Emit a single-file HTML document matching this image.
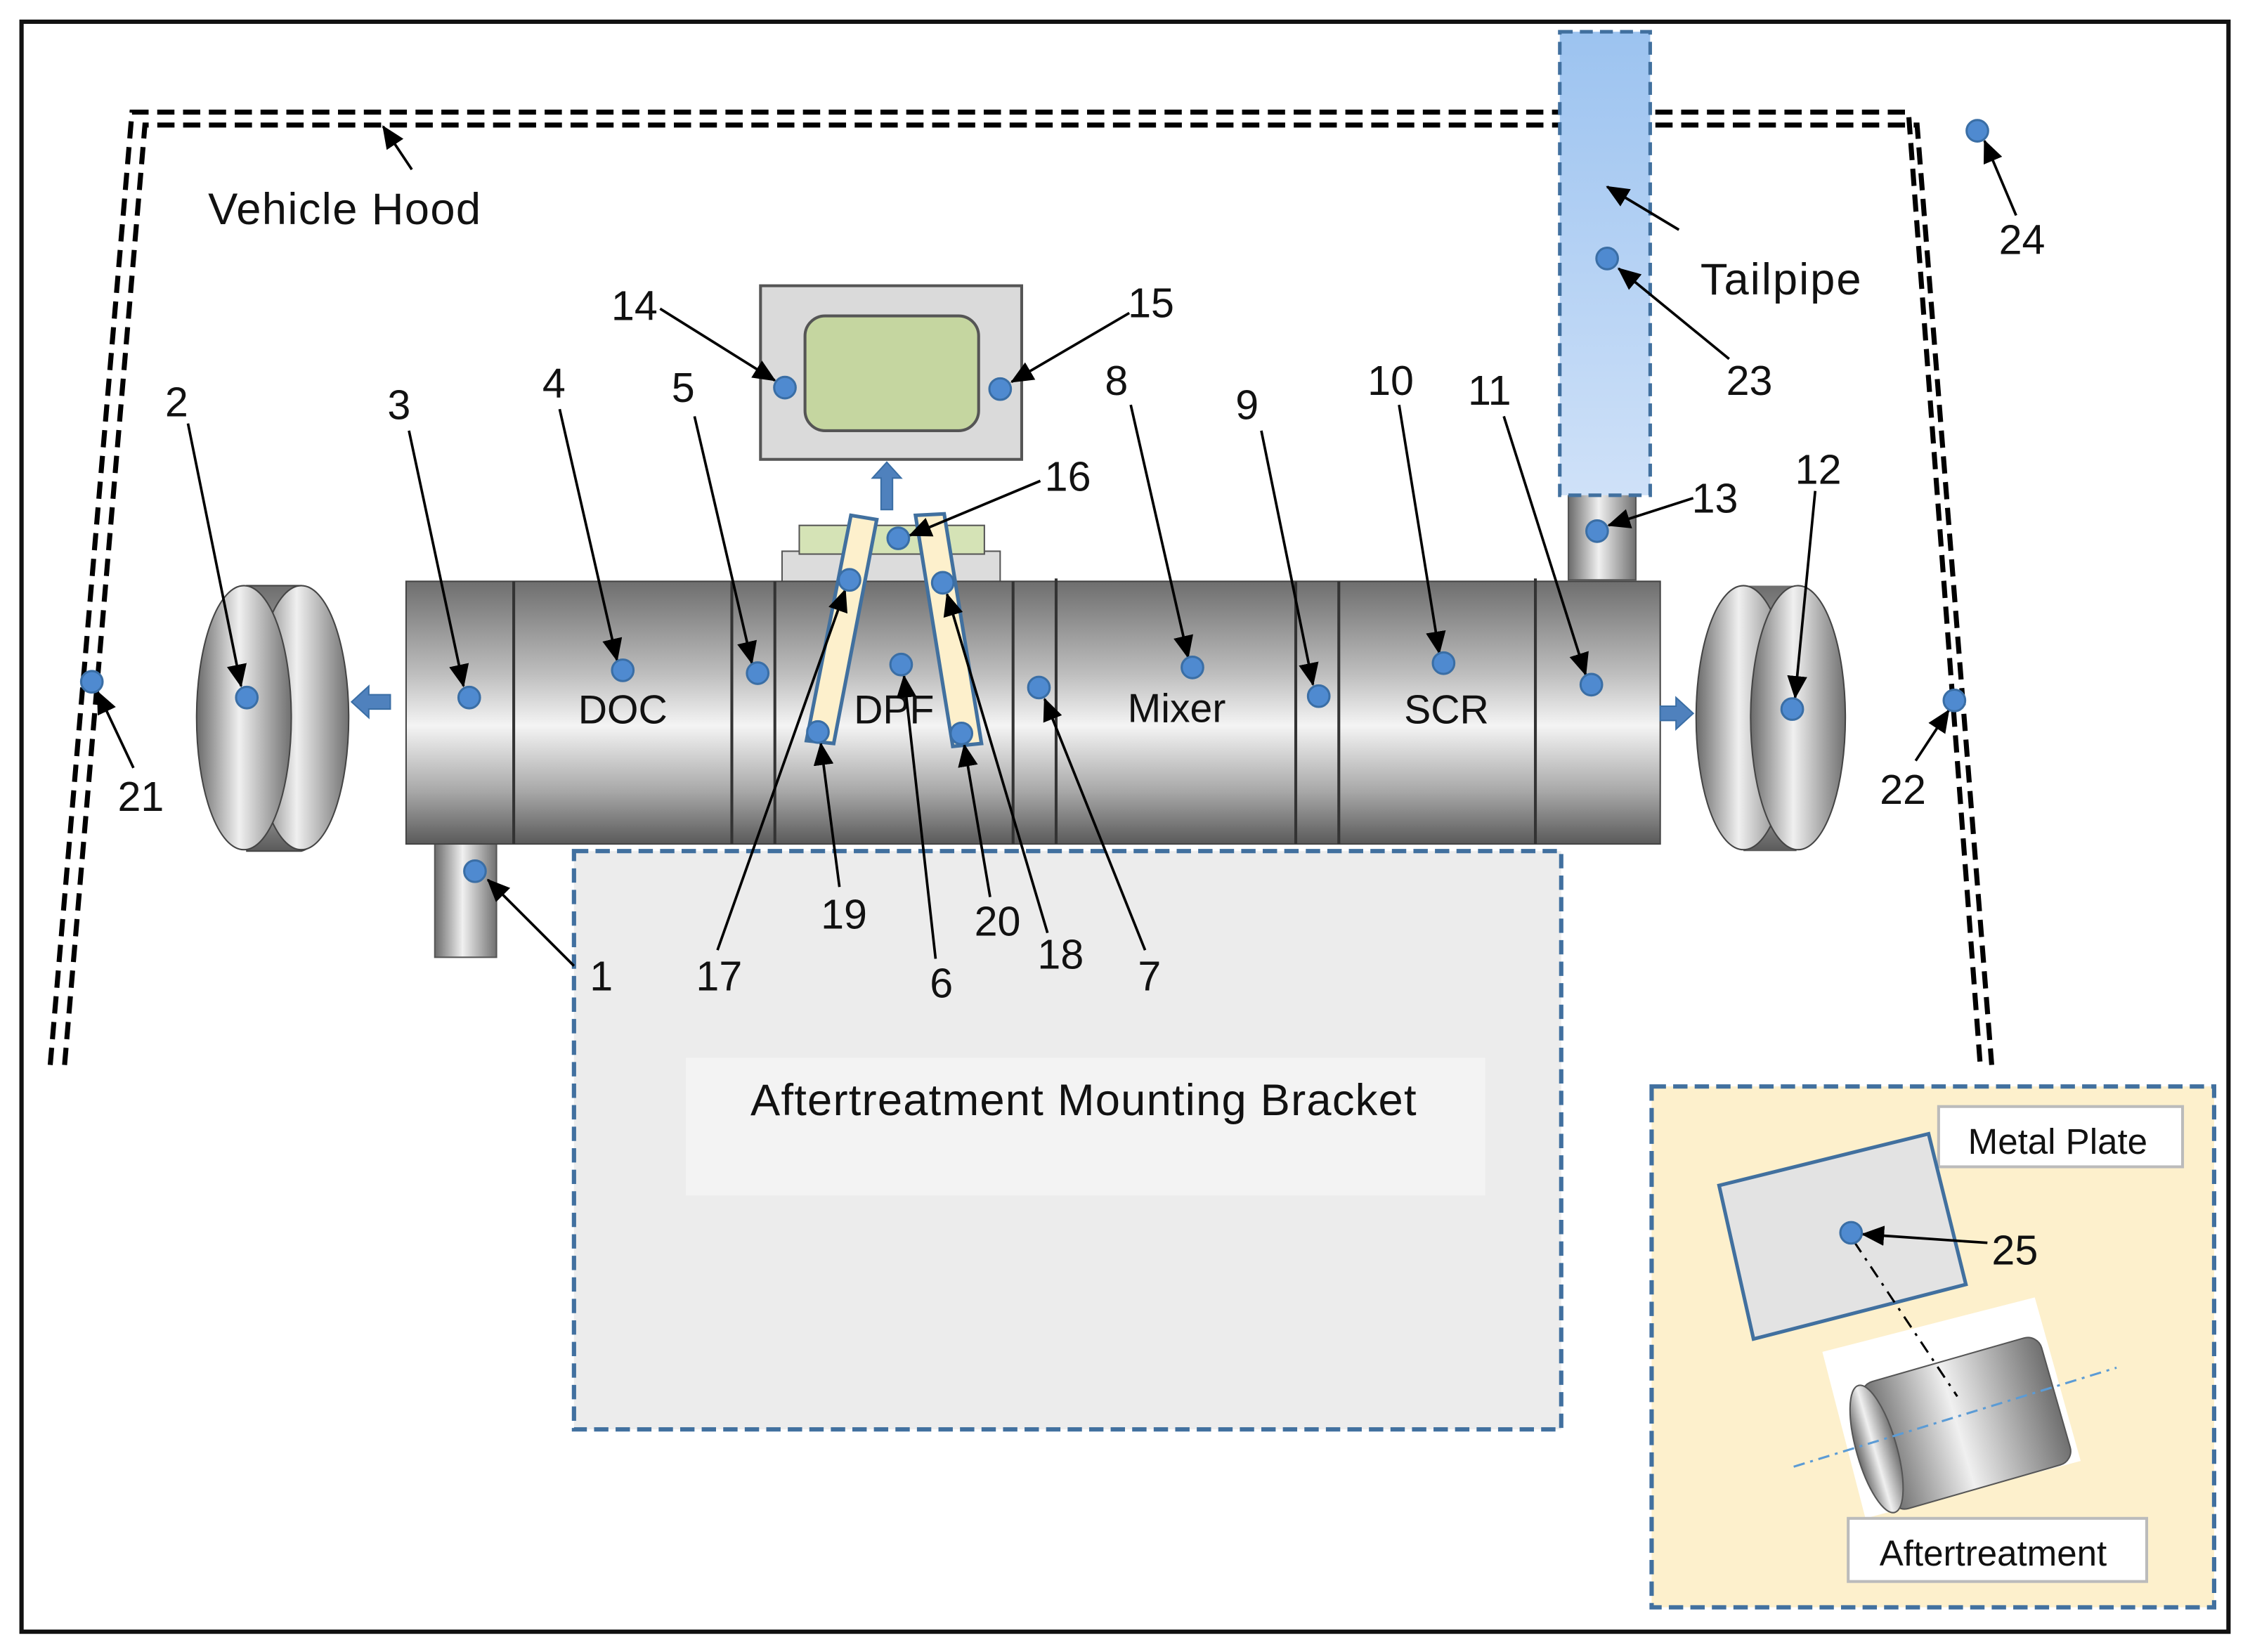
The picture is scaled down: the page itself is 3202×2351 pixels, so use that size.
<!DOCTYPE html>
<html><head><meta charset="utf-8"><style>
html,body{margin:0;padding:0;background:#fff}
svg{display:block}
text{font-family:"Liberation Sans",sans-serif;fill:#111}
</style></head><body>
<svg width="3202" height="2351" viewBox="0 0 1568 1151" xmlns="http://www.w3.org/2000/svg">
<defs>
<linearGradient id="cyl" x1="0" y1="0" x2="0" y2="1">
<stop offset="0" stop-color="#6e6e6e"/><stop offset="0.35" stop-color="#bdbdbd"/><stop offset="0.55" stop-color="#f4f4f4"/><stop offset="0.8" stop-color="#a8a8a8"/><stop offset="1" stop-color="#5a5a5a"/></linearGradient>
<linearGradient id="cylh" x1="0" y1="0" x2="1" y2="0">
<stop offset="0" stop-color="#6a6a6a"/><stop offset="0.45" stop-color="#f0f0f0"/><stop offset="1" stop-color="#707070"/></linearGradient>
<linearGradient id="tail" x1="0" y1="0" x2="0" y2="1">
<stop offset="0" stop-color="#9cc3f0"/><stop offset="1" stop-color="#cfe1f8"/></linearGradient>
<marker id="ah2" markerWidth="16" markerHeight="14" refX="15" refY="7" orient="auto" markerUnits="userSpaceOnUse" viewBox="0 0 16 14">
<path d="M0,0 L16,7 L0,14 z" fill="#000"/></marker>
</defs>
<rect x="15" y="15" width="1538" height="1122" fill="#fff" stroke="#111" stroke-width="3"/>

<path d="M35,742 L92,78 L1330,78 L1380,742" fill="none" stroke="#000" stroke-width="3.5" stroke-dasharray="12,6"/>
<path d="M45,742 L101,87 L1336,87 L1388,742" fill="none" stroke="#000" stroke-width="3.5" stroke-dasharray="12,6"/>

<rect x="400" y="593" width="688" height="403" fill="#ececec" stroke="#41709f" stroke-width="3" stroke-dasharray="10,5"/>
<rect x="478" y="737" width="557" height="96" fill="#f3f3f3"/>
<text x="755" y="777" font-size="31" text-anchor="middle" textLength="464">Aftertreatment Mounting Bracket</text>

<rect x="1093" y="340" width="47" height="64" fill="url(#cylh)" stroke="#555"/>
<rect x="1087" y="22" width="63" height="323" fill="url(#tail)" stroke="#41709f" stroke-width="2.5" stroke-dasharray="9,5"/>

<rect x="303" y="585" width="43" height="82" fill="url(#cylh)" stroke="#555"/>

<path d="M172,408 L210,408 A35,93 0 0 1 210,593 L172,593 Z" fill="url(#cyl)" stroke="#444"/>
<ellipse cx="210" cy="500" rx="33" ry="92" fill="url(#cylh)" stroke="#444"/>
<ellipse cx="170" cy="500" rx="33" ry="92" fill="url(#cylh)" stroke="#444"/>
<path d="M1215,408 L1252,408 L1252,593 L1215,593 Z" fill="url(#cyl)"/>
<ellipse cx="1215" cy="500" rx="33" ry="92" fill="url(#cylh)" stroke="#444"/>
<ellipse cx="1253" cy="500" rx="33" ry="92" fill="url(#cylh)" stroke="#444"/>

<rect x="545" y="384" width="152" height="24" fill="#dcdcdc" stroke="#555"/>
<rect x="557" y="366" width="129" height="20" fill="#d5e3b6" stroke="#555"/>

<rect x="283" y="405" width="874" height="183" fill="url(#cyl)" stroke="#444"/>
<g stroke="#333" stroke-width="2">
<line x1="358" y1="405" x2="358" y2="588"/><line x1="510" y1="405" x2="510" y2="588"/>
<line x1="540" y1="405" x2="540" y2="588"/><line x1="706" y1="405" x2="706" y2="588"/>
<line x1="736" y1="403" x2="736" y2="588"/><line x1="903" y1="405" x2="903" y2="588"/>
<line x1="933" y1="405" x2="933" y2="588"/><line x1="1070" y1="403" x2="1070" y2="588"/>
</g>
<text x="434" y="504" font-size="28" text-anchor="middle">DOC</text>
<text x="623" y="504" font-size="28" text-anchor="middle">DPF</text>
<text x="820" y="503" font-size="28" text-anchor="middle">Mixer</text>
<text x="1008" y="504" font-size="28" text-anchor="middle">SCR</text>

<polygon points="593,359 611,362 581,518 562,516" fill="#fdf0cc" stroke="#41709f" stroke-width="2.5"/>
<polygon points="638,359 658,358 684,518 664,520" fill="#fdf0cc" stroke="#41709f" stroke-width="2.5"/>

<rect x="530" y="199" width="182" height="121" fill="#dadada" stroke="#555" stroke-width="2"/>
<rect x="561" y="220" width="121" height="80" rx="14" fill="#c5d6a0" stroke="#555" stroke-width="2"/>
<path d="M614,355 L614,333 L608,333 L618,322 L628,333 L622,333 L622,355 Z" fill="#4f81bd" stroke="#3a6ea5"/>

<path d="M272,484 L257,484 L257,478 L245,489 L257,500 L257,494 L272,494 Z" fill="#4f81bd" stroke="#3a6ea5"/>
<path d="M1157,492 L1168,492 L1168,486 L1180,497 L1168,508 L1168,502 L1157,502 Z" fill="#4f81bd" stroke="#3a6ea5"/>

<rect x="1151" y="757" width="392" height="363" fill="#fdf0cc" stroke="#41709f" stroke-width="3" stroke-dasharray="10,5"/>
<rect x="1351" y="771" width="170" height="42" fill="#fff" stroke="#bbb" stroke-width="2"/>
<text x="1434" y="804" font-size="25" text-anchor="middle">Metal Plate</text>
<polygon points="1198,826 1344,790 1370,895 1222,933" fill="#e3e3e3" stroke="#41709f" stroke-width="2.5"/>
<polygon points="1270,942 1418,904 1450,1018 1300,1058" fill="#fff"/>
<g transform="rotate(-16 1362 992)">
<rect x="1305" y="948" width="130" height="92" rx="10" fill="url(#cylh)" stroke="#555"/>
<ellipse cx="1305" cy="994" rx="14" ry="46" fill="url(#cylh)" stroke="#555"/>
</g>
<line x1="1250" y1="1022" x2="1475" y2="953" stroke="#5b9bd5" stroke-width="1.5" stroke-dasharray="8,4,2,4"/>
<line x1="1292" y1="865" x2="1364" y2="973" stroke="#000" stroke-width="1.5" stroke-dasharray="9,5,2,5"/>
<rect x="1288" y="1058" width="208" height="44" fill="#fff" stroke="#bbb" stroke-width="2"/>
<text x="1389" y="1091" font-size="25" text-anchor="middle">Aftertreatment</text>

<g stroke="#000" stroke-width="1.8" fill="none" marker-end="url(#ah2)">
<line x1="400" y1="673" x2="340" y2="613"/>
<line x1="131" y1="295" x2="168" y2="478"/>
<line x1="285" y1="300" x2="323" y2="478"/>
<line x1="390" y1="285" x2="430" y2="460"/>
<line x1="484" y1="290" x2="524" y2="462"/>
<line x1="652" y1="668" x2="630" y2="471"/>
<line x1="798" y1="662" x2="728" y2="487"/>
<line x1="788" y1="282" x2="828" y2="458"/>
<line x1="879" y1="300" x2="915" y2="477"/>
<line x1="975" y1="282" x2="1003" y2="455"/>
<line x1="1048" y1="290" x2="1105" y2="470"/>
<line x1="1265" y1="342" x2="1251" y2="486"/>
<line x1="1180" y1="347" x2="1121" y2="366"/>
<line x1="460" y1="215" x2="540" y2="265"/>
<line x1="787" y1="218" x2="705" y2="266"/>
<line x1="725" y1="335" x2="634" y2="373"/>
<line x1="500" y1="662" x2="589" y2="411"/>
<line x1="730" y1="650" x2="660" y2="414"/>
<line x1="585" y1="618" x2="572" y2="518"/>
<line x1="690" y1="625" x2="672" y2="519"/>
<line x1="93" y1="535" x2="68" y2="482"/>
<line x1="1335" y1="530" x2="1358" y2="495"/>
<line x1="1205" y1="250" x2="1128" y2="187"/>
<line x1="1405" y1="150" x2="1383" y2="98"/>
<line x1="1385" y1="866" x2="1298" y2="860"/>
<line x1="1170" y1="160" x2="1120" y2="130"/>
<line x1="287" y1="118" x2="267" y2="88"/>
</g>
<g font-size="29">
<text x="411" y="690">1</text><text x="115" y="290">2</text><text x="270" y="292">3</text>
<text x="378" y="277">4</text><text x="468" y="280">5</text><text x="648" y="695">6</text>
<text x="793" y="690">7</text><text x="770" y="275">8</text><text x="861" y="292">9</text>
<text x="953" y="275">10</text><text x="1023" y="282">11</text><text x="1251" y="337">12</text>
<text x="1179" y="357">13</text><text x="426" y="223">14</text><text x="786" y="221">15</text>
<text x="728" y="342">16</text><text x="485" y="690">17</text><text x="723" y="675">18</text>
<text x="572" y="647">19</text><text x="679" y="652">20</text><text x="82" y="565">21</text>
<text x="1310" y="560">22</text><text x="1203" y="275">23</text><text x="1393" y="177">24</text>
<text x="1388" y="881">25</text>
</g>
<text x="1185" y="205" font-size="31" textLength="112">Tailpipe</text>
<text x="145" y="156" font-size="31" textLength="190">Vehicle Hood</text>

<g fill="#4f8ad0" stroke="#3a6ea5" stroke-width="1.5">
<circle cx="331" cy="607" r="7.5"/><circle cx="172" cy="486" r="7.5"/><circle cx="327" cy="486" r="7.5"/>
<circle cx="434" cy="467" r="7.5"/><circle cx="528" cy="469" r="7.5"/><circle cx="628" cy="463" r="7.5"/>
<circle cx="724" cy="479" r="7.5"/><circle cx="831" cy="465" r="7.5"/><circle cx="919" cy="485" r="7.5"/>
<circle cx="1006" cy="462" r="7.5"/><circle cx="1109" cy="477" r="7.5"/><circle cx="1249" cy="494" r="7.5"/>
<circle cx="1113" cy="370" r="7.5"/><circle cx="547" cy="270" r="7.5"/><circle cx="697" cy="271" r="7.5"/>
<circle cx="626" cy="375" r="7.5"/><circle cx="592" cy="404" r="7.5"/><circle cx="657" cy="406" r="7.5"/>
<circle cx="570" cy="510" r="7.5"/><circle cx="670" cy="511" r="7.5"/><circle cx="64" cy="475" r="7.5"/>
<circle cx="1362" cy="488" r="7.5"/><circle cx="1120" cy="180" r="7.5"/><circle cx="1378" cy="91" r="7.5"/>
<circle cx="1290" cy="859" r="7.5"/>
</g>
</svg>
</body></html>
